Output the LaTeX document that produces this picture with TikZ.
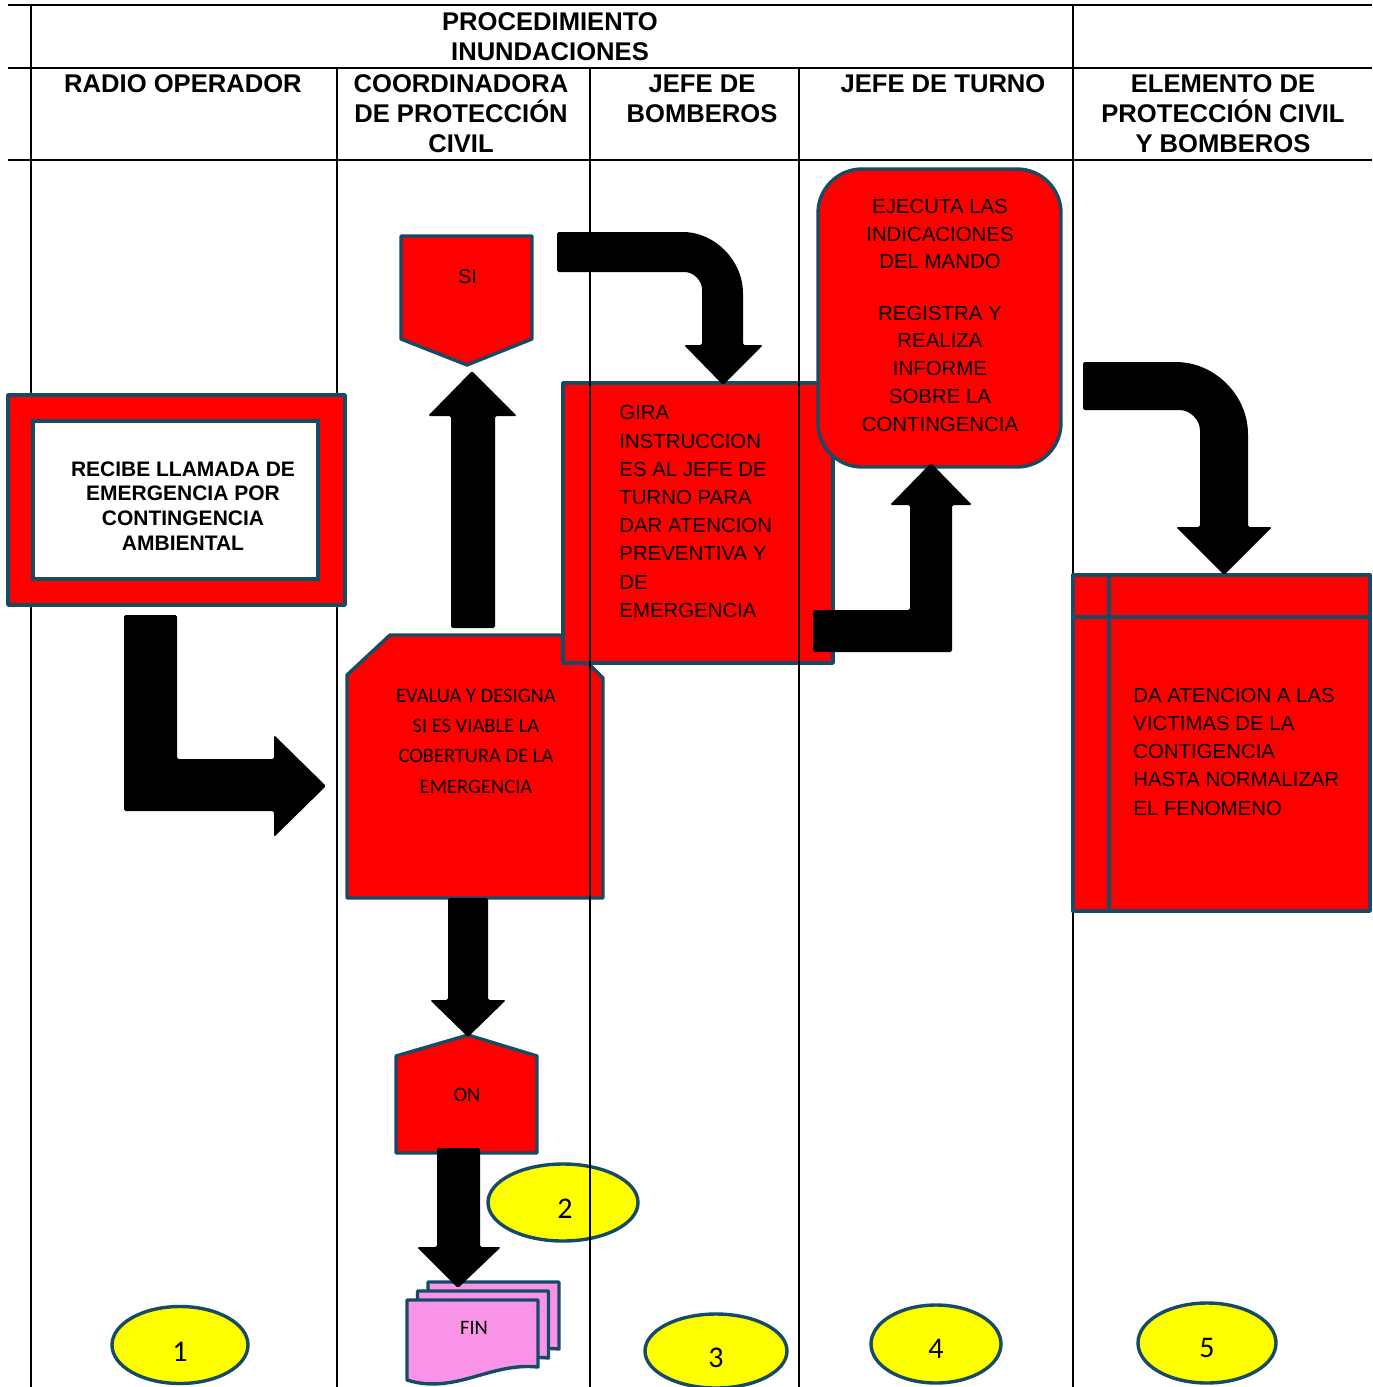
\documentclass[tikz,border=0pt]{standalone}
\usepackage{fontspec}
\setmainfont{Liberation Sans}
\newfontfamily\calfont{Carlito}
\usetikzlibrary{calc,shapes.geometric}
\definecolor{bordc}{HTML}{164B66}
\definecolor{boxred}{HTML}{FF0000}
\definecolor{finpink}{HTML}{F993E8}
\definecolor{elly}{HTML}{FFFF00}
\begin{document}
\begin{tikzpicture}[x=0.5pt,y=-0.5pt,
  gridline/.style={line width=1.1pt, black},
  box/.style={fill=boxred, draw=bordc, line width=1.7pt, line join=round},
  docbox/.style={fill=finpink, draw=bordc, line width=1.7pt, line join=round},
  blk/.style={fill=black, draw=none, rounded corners=0.8pt},
  hdr/.style={font=\fontsize{12.8}{15}\selectfont\bfseries, align=center, inner sep=0pt},
  bold/.style={font=\fontsize{10.5}{12.35}\selectfont\bfseries, align=center, inner sep=0pt},
  txt/.style={font=\fontsize{10.2}{14.1}\selectfont, inner sep=0pt},
  ctxt/.style={font=\calfont\fontsize{10.25}{15.1}\selectfont, align=center, inner sep=0pt},
  numell/.style={ellipse, fill=elly, draw=bordc, line width=1.7pt, inner sep=0pt},
  numtxt/.style={font=\calfont\fontsize{15}{18}\selectfont, inner sep=0pt}
]
\useasboundingbox (0,0) rectangle (1372,1387);
\fill[white] (0,0) rectangle (1372,1387);

% table grid
\draw[gridline] (8,5) -- (1372,5) (8,68) -- (1372,68) (8,160) -- (1372,160);
\draw[gridline] (31,5) -- (31,1387) (337,68) -- (337,1387) (590,68) -- (590,1387)
  (799,68) -- (799,1387) (1073,5) -- (1073,1387);

% header texts
\node[hdr] (title) at (550,36.5) {PROCEDIMIENTO\\INUNDACIONES};
\node[hdr] (h1) at (183,84) {RADIO OPERADOR};
\node[hdr] (h2) at (461,114) {COORDINADORA\\DE PROTECCIÓN\\CIVIL};
\node[hdr] (h3) at (702,99) {JEFE DE\\BOMBEROS};
\node[hdr] (h4) at (943,84) {JEFE DE TURNO};
\node[hdr] (h5) at (1223,114) {ELEMENTO DE\\PROTECCIÓN CIVIL\\Y BOMBEROS};

% RECIBE box
\path[box] (8,395) rectangle (345,605);
\path[draw=bordc, line width=1.7pt, fill=white] (33,421) rectangle (318,579);
\node[bold] (recibe) at (183,506) {RECIBE LLAMADA DE\\EMERGENCIA POR\\CONTINGENCIA\\AMBIENTAL};

% SI shape
\path[box] (401,236) -- (532,236) -- (532,339) -- (467,365) -- (401,339) -- cycle;
\node[txt, font=\fontsize{10}{12}\selectfont] (si) at (467.5,277) {SI};

% EVALUA shape
\path[box] (347,675) -- (390,635) -- (560,635) -- (603,678) -- (603,898) -- (347,898) -- cycle;
\node[ctxt] (evalua) at (476,741.3) {EVALUA Y DESIGNA\\SI ES VIABLE LA\\COBERTURA DE LA\\EMERGENCIA};

% GIRA box
\path[box] (563,383) rectangle (833,663);
\node[txt, anchor=west, align=left] (gira) at (619,511.5) {GIRA\\INSTRUCCION\\ES AL JEFE DE\\TURNO PARA\\DAR ATENCION\\PREVENTIVA Y\\DE\\EMERGENCIA};

% EJECUTA box
\path[box, rounded corners=22pt] (818,169) rectangle (1061,467);
\node[txt, align=center, font=\fontsize{10.2}{13.85}\selectfont] (ejecuta) at (940,315.3) {EJECUTA LAS\\INDICACIONES\\DEL MANDO\\[11.8pt]REGISTRA Y\\REALIZA\\INFORME\\SOBRE LA\\CONTINGENCIA};

% DA ATENCION box (internal storage)
\path[box] (1073,575) rectangle (1370,911);
\draw[bordc, line width=1.7pt] (1109,575) -- (1109,911) (1073,617) -- (1370,617);
\node[txt, anchor=west, align=left, font=\fontsize{10.2}{14.05}\selectfont] (da) at (1133,751.8) {DA ATENCION A LAS\\VICTIMAS DE LA\\CONTIGENCIA\\HASTA NORMALIZAR\\EL FENOMENO};

% ON shape
\path[box] (468,1035) -- (537,1056) -- (537,1153) -- (396,1153) -- (396,1056) -- cycle;
\node[ctxt] (on) at (467,1095) {ON};

% FIN multidocument
\path[docbox] (428,1282) -- (559,1282) -- (559,1349) .. controls (511,1344) and (476,1377) .. (428,1362) -- cycle;
\path[docbox] (417.5,1291) -- (548.5,1291) -- (548.5,1358) .. controls (500.5,1353) and (465.5,1386) .. (417.5,1371) -- cycle;
\path[docbox] (407,1300) -- (538,1300) -- (538,1367) .. controls (490,1362) and (455,1395) .. (407,1380) -- cycle;
\node[ctxt] (fin) at (474,1328) {FIN};

% numbered ellipses
\node[numell, minimum width=68pt, minimum height=38.5pt] (e1) at (180,1345) {};
\node[numell, minimum width=75pt, minimum height=38.5pt] (e2) at (563,1202.5) {};
\node[numell, minimum width=71pt, minimum height=37pt] (e3) at (716,1351) {};
\node[numell, minimum width=65pt, minimum height=39pt] (e4) at (936,1344) {};
\node[numell, minimum width=69pt, minimum height=40pt] (e5) at (1207,1343) {};
\node[numtxt] (t1) at (180,1352) {1};
\node[numtxt] (t2) at (565,1209) {2};
\node[numtxt] (t3) at (716,1358) {3};
\node[numtxt] (t4) at (936,1349) {4};
\node[numtxt] (t5) at (1207,1348) {5};

% block arrows
% RECIBE -> EVALUA
\path[blk] (124,615) -- (177,615) -- (177,759) -- (274,759) -- (274,735) -- (326,786)
  -- (274,837) -- (274,811) -- (124,811) -- cycle;
% EVALUA -> SI
\path[blk] (451,628) -- (451,416) -- (428,416) -- (472,371) -- (517,416) -- (495,416) -- (495,628) -- cycle;
% EVALUA -> ON
\path[blk] (448,898) -- (488,898) -- (488,1000) -- (506,1000) -- (468,1037) -- (430,1000) -- (448,1000) -- cycle;
% ON -> FIN
\path[blk] (437,1148) -- (480,1148) -- (480,1247) -- (501,1247) -- (458,1288) -- (417,1247) -- (437,1247) -- cycle;
% SI -> GIRA (curved bent arrow)
\path[blk] (557,232) -- (681,232) .. controls (715.2,232) and (743,260.8) .. (743,295)
  -- (743,345) -- (763,345) -- (723,385) -- (684,345) -- (702,345) -- (702,291)
  .. controls (702,280.5) and (693.5,272) .. (683,272) -- (557,272) -- cycle;
% GIRA -> EJECUTA
\path[blk] (813,610) -- (910,610) -- (910,505) -- (890,505) -- (931,463) -- (972,505)
  -- (952,505) -- (952,652) -- (813,652) -- cycle;
% EJECUTA -> DA ATENCION
\path[blk] (1083,362) -- (1174,362) .. controls (1214.8,362) and (1248,395.2) .. (1248,436)
  -- (1248,527) -- (1272,527) -- (1224,575) -- (1176,527) -- (1200,527) -- (1200,432)
  .. controls (1200,419.9) and (1190.1,410) .. (1178,410) -- (1083,410) -- cycle;

% lane lines drawn over shapes
\draw[gridline] (590,160) -- (590,1387) (799,160) -- (799,1387);
\end{tikzpicture}
\end{document}
